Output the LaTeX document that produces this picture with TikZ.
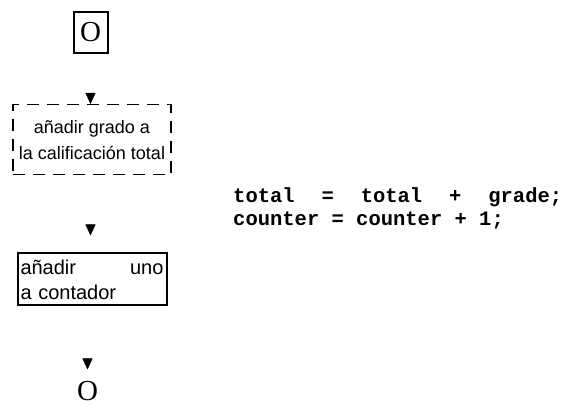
\documentclass[tikz,border=0pt]{standalone}
\usepackage{fontspec}
\newfontfamily\boxfont{Liberation Sans}
\newfontfamily\codefont{Liberation Mono}
\newfontfamily\termfont{Liberation Serif}
\usetikzlibrary{arrows.meta}

\begin{document}
\begin{tikzpicture}[x=1pt,y=1pt]
	\useasboundingbox (0,0) rectangle (567,406);

	\tikzstyle{mybox}=[draw=black,line width=2pt,inner sep=3pt]
	\tikzstyle{myterm}=[font=\termfont\fontsize{29}{29}\selectfont, inner sep=0pt]
    % connector line itself is not visible, only the tip
	\tikzstyle{myarrow}=[white, -{Triangle[black,width=10pt,length=11pt]}]

	\node[mybox, myterm, minimum width=34pt, minimum height=41pt] (start) at (90.5,373.5) {O};
	\node[draw=black, dash pattern=on 12pt off 8pt, line width=1.5pt, minimum width=158pt, minimum height=70pt, align=center,
		font=\boxfont\fontsize{18}{26}\selectfont, anchor=north] (sum) at ([xshift=1.5pt, yshift=-50pt] start.south) {añadir grado a\\la calificación total};
	\node[mybox, text width=143pt, minimum height=52pt, align=left,
		font=\boxfont\fontsize{20}{25}\selectfont, anchor=north] (count) at ([yshift=-77pt] sum.south) {añadir\hfill uno\\a contador};
	\node[myterm, anchor=north] (stop) at ([xshift=-4.5pt, yshift=-75pt] count.south) {O};

	% code beside the chart
	\node[anchor=base west, inner sep=0pt, align=left, font=\codefont\bfseries\fontsize{20.5}{23}\selectfont] (code) at (233,180)
		{\hbox to 329pt{total\hfill=\hfill total\hfill+\hfill grade;}\\counter = counter + 1;};

	\draw[myarrow] (start.south) -- (start.south |- sum.north);
	\draw[myarrow, shorten >=17pt] (start.south |- sum.south) -- (start.south |- count.north);
	\draw[myarrow, shorten >=12pt] (stop.north |- count.south) -- (stop.north);
\end{tikzpicture}
\end{document}
